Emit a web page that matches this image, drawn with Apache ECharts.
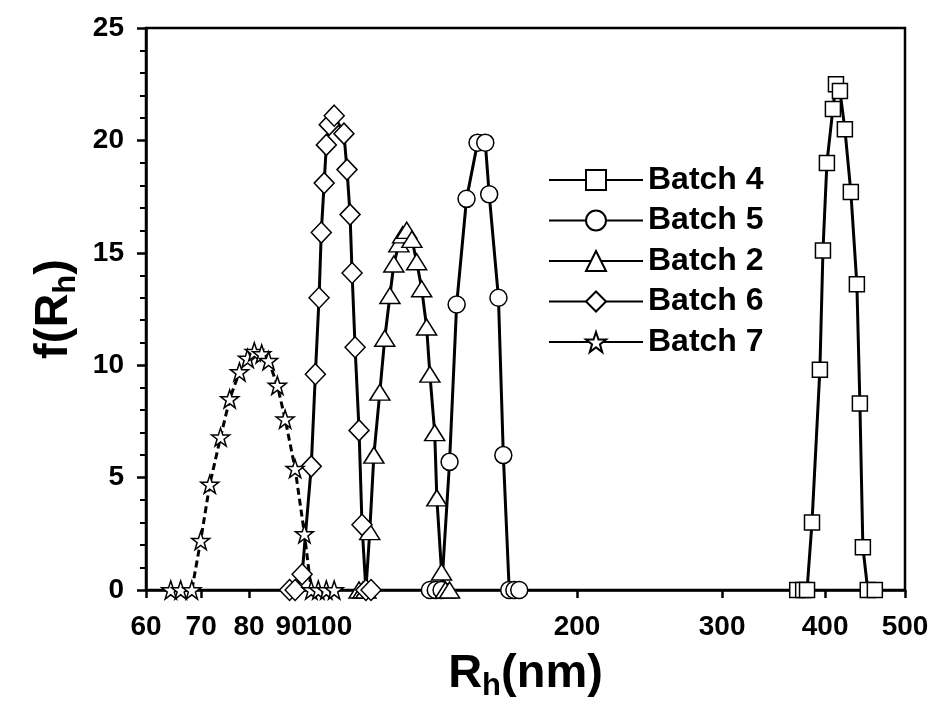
<!DOCTYPE html>
<html>
<head>
<meta charset="utf-8">
<script src="https://cdn.jsdelivr.net/npm/echarts@6/dist/echarts.min.js"></script>
<style>html,body{margin:0;padding:0;background:#fff}#c{width:936px;height:727px}</style>
</head>
<body>
<div id="c"></div>
<script>
// ---- data ----
const seriesNames = ['Batch 4', 'Batch 5', 'Batch 2', 'Batch 6', 'Batch 7'];

const batch4X = [370.0, 376.2, 380.3, 385.6, 394.2, 397.6, 402.0, 408.8, 412.3, 416.9, 422.7, 429.8, 437.1, 440.8, 444.5, 450.6, 459.6];
const batch4Y = [0, 0, 0, 3.0, 9.8, 15.1, 19.0, 21.4, 22.5, 22.2, 20.5, 17.7, 13.6, 8.3, 1.9, 0, 0];

const batch5X = [132.6, 134.8, 137.0, 140.1, 142.9, 146.9, 151.5, 154.8, 156.5, 160.6, 162.8, 165.5, 167.9, 170.2];
const batch5Y = [0, 0, 0, 5.7, 12.7, 17.4, 19.9, 19.9, 17.6, 13.0, 6.0, 0, 0, 0];

const batch2X = [108.8, 110.0, 110.9, 112.1, 113.4, 115.3, 116.9, 118.6, 119.9, 121.6, 122.9, 124.3, 126.1, 127.8, 129.6, 131.4, 132.6, 134.4, 135.2, 137.0, 138.5, 140.1];
const batch2Y = [0, 0, 0, 2.6, 6.0, 8.8, 11.2, 13.1, 14.5, 15.4, 15.8, 16.0, 15.6, 14.6, 13.4, 11.7, 9.6, 7.0, 4.1, 0.8, 0, 0];

const batch6X = [89.6, 91.0, 92.8, 95.2, 96.3, 97.3, 97.9, 98.7, 99.3, 100.1, 101.5, 104.3, 105.2, 106.1, 106.7, 107.6, 108.8, 109.7, 110.9, 112.5];
const batch6Y = [0, 0, 0.7, 5.5, 9.6, 13.0, 15.9, 18.1, 19.8, 20.7, 21.1, 20.3, 18.7, 16.7, 14.1, 10.8, 7.1, 2.9, 0, 0];

const batch7X = [64.3, 66.1, 68.2, 69.9, 71.7, 73.9, 75.8, 77.9, 79.7, 81.2, 82.9, 84.5, 86.6, 88.5, 91.0, 93.4, 95.2, 97.1, 99.3, 101.5];
const batch7Y = [0, 0, 0, 2.2, 4.7, 6.8, 8.5, 9.7, 10.3, 10.6, 10.5, 10.2, 9.1, 7.6, 5.4, 2.5, 0, 0, 0, 0];

const xTickValues = [60, 70, 80, 90, 100, 200, 300, 400, 500];
const yTickValues = [0, 5, 10, 15, 20, 25];

// ---- chart ----
const FONT = '"Liberation Sans", Arial, Helvetica, sans-serif';
const STAR = 'path://M50,2 L61.8,36.2 L97.6,36.2 L68.6,57.6 L79.6,92 L50,71 L20.4,92 L31.4,57.6 L2.4,36.2 L38.2,36.2 Z';

function pairs(xs, ys) { return xs.map((x, i) => [x, ys[i]]); }

const seriesDefs = [
  { name: seriesNames[0], data: pairs(batch4X, batch4Y), symbol: 'rect', size: 15, dash: 'solid' },
  { name: seriesNames[1], data: pairs(batch5X, batch5Y), symbol: 'circle', size: 17, dash: 'solid' },
  { name: seriesNames[2], data: pairs(batch2X, batch2Y), symbol: 'triangle', size: [20, 16], dash: 'solid' },
  { name: seriesNames[3], data: pairs(batch6X, batch6Y), symbol: 'diamond', size: [20, 21], dash: 'solid' },
  { name: seriesNames[4], data: pairs(batch7X, batch7Y), symbol: STAR, size: 18, dash: [7, 4] }
];

const chart = echarts.init(document.getElementById('c'), null, { renderer: 'canvas' });

const nameRich = {
  a: { fontFamily: FONT, fontWeight: 'bold', fontSize: 47, lineHeight: 52, color: '#000' },
  s: { fontFamily: FONT, fontWeight: 'bold', fontSize: 31, lineHeight: 31, color: '#000', padding: [25, 0, 0, 0] }
};

chart.setOption({
  animation: false,
  backgroundColor: '#fff',
  grid: { left: 146, right: 31, top: 28, bottom: 137, show: true, borderColor: '#000', borderWidth: 2.5, backgroundColor: 'transparent', outerBoundsMode: 'none', containLabel: false },
  legend: {
    orient: 'vertical', left: 543, top: 159,
    itemWidth: 94, itemHeight: 25, itemGap: 8.5,
    data: seriesNames,
    lineStyle: { type: 'solid', width: 2 },
    textStyle: { fontFamily: FONT, fontWeight: 'bold', fontSize: 32, lineHeight: 32, color: '#000' }
  },
  xAxis: {
    type: 'log', logBase: 10, min: 60, max: 500,
    axisLine: { show: true, onZero: false, lineStyle: { color: '#000', width: 2.5 } },
    axisTick: { show: true, customValues: xTickValues, length: 8, lineStyle: { color: '#000', width: 2.5 } },
    minorTick: { show: false },
    axisLabel: { customValues: xTickValues, fontFamily: FONT, fontWeight: 'bold', fontSize: 28, color: '#000', margin: 23 },
    splitLine: { show: false },
    name: '{a|R}{s|h}{a|(nm)}', nameLocation: 'middle', nameGap: 55,
    nameTextStyle: { rich: nameRich }
  },
  yAxis: {
    type: 'value', min: 0, max: 25, interval: 5,
    axisLine: { show: true, lineStyle: { color: '#000', width: 2.5 } },
    axisTick: { show: true, length: 9, lineStyle: { color: '#000', width: 2.5 } },
    minorTick: { show: true, splitNumber: 5, length: 6, lineStyle: { color: '#000', width: 2 } },
    axisLabel: { fontFamily: FONT, fontWeight: 'bold', fontSize: 28, color: '#000', margin: 22,
      formatter: v => (yTickValues.indexOf(v) >= 0 ? String(v) : '') },
    splitLine: { show: false },
    name: '{a|f(R}{s|h}{a|)}', nameLocation: 'middle', nameGap: 66,
    nameTextStyle: { rich: nameRich }
  },
  series: seriesDefs.map(d => ({
    name: d.name, type: 'line', data: d.data,
    symbol: d.symbol, symbolSize: d.size, showAllSymbol: true,
    lineStyle: { color: '#000', width: 3, type: d.dash },
    itemStyle: { color: '#fff', borderColor: '#000', borderWidth: 1.5 },
    emphasis: { disabled: true },
    z: 2
  }))
});
</script>
</body>
</html>
